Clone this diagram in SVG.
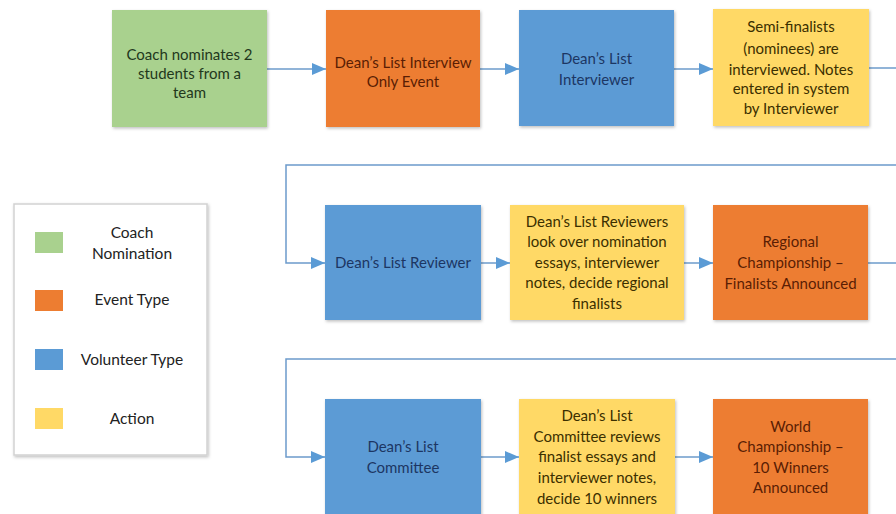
<svg xmlns="http://www.w3.org/2000/svg" width="896" height="514" viewBox="0 0 896 514">
<style>
text{font-family:Lato,"Open Sans","Liberation Sans",sans-serif;font-size:15px;text-anchor:middle}
.g{fill:#A9D18E}.o{fill:#ED7D31}.b{fill:#5B9BD5}.y{fill:#FFD966}
.tg{fill:#22381c}.to{fill:#5a1d04}.tb{fill:#1c3663}.ty{fill:#3b2f00}.tl{fill:#222;font-size:15.5px}
.c{fill:none;stroke:#6c9bcb;stroke-width:1.5}
</style>
<defs>
<filter id="sh" x="-10%" y="-10%" width="130%" height="130%"><feDropShadow dx="1" dy="1.5" stdDeviation="1.5" flood-color="#000" flood-opacity="0.25"/></filter>
<marker id="ar" markerWidth="14" markerHeight="12" refX="14" refY="6" orient="auto" markerUnits="userSpaceOnUse"><path d="M0,0 L14,6 L0,12 Z" fill="#5b9bd5"/></marker>
</defs>
<rect width="896" height="514" fill="#fff"/>
<g id="connectors">
<path class="c" d="M267,69 H326" marker-end="url(#ar)"/>
<path class="c" d="M480,69 H519" marker-end="url(#ar)"/>
<path class="c" d="M674,69 H713" marker-end="url(#ar)"/>
<path class="c" d="M869,68 H896"/>
<path class="c" d="M896,165 H286 V263 H325" marker-end="url(#ar)"/>
<path class="c" d="M481,263 H510" marker-end="url(#ar)"/>
<path class="c" d="M684,263 H713" marker-end="url(#ar)"/>
<path class="c" d="M868,263 H896"/>
<path class="c" d="M896,359 H286 V457 H325" marker-end="url(#ar)"/>
<path class="c" d="M481,457 H519" marker-end="url(#ar)"/>
<path class="c" d="M675,457 H713" marker-end="url(#ar)"/>
</g>
<g id="coach">
<rect class="g" x="112" y="10" width="155" height="117" filter="url(#sh)"/>
<text class="tg"><tspan x="189.5" y="60">Coach nominates 2</tspan><tspan x="189.5" y="79">students from a</tspan><tspan x="189.5" y="98">team</tspan></text>
</g>
<g id="interview-event">
<rect class="o" x="326" y="10" width="154" height="117" filter="url(#sh)"/>
<text class="to"><tspan x="403" y="68">Dean’s List Interview</tspan><tspan x="403" y="87">Only Event</tspan></text>
</g>
<g id="interviewer">
<rect class="b" x="519" y="10" width="155" height="116" filter="url(#sh)"/>
<text class="tb"><tspan x="596.5" y="64">Dean’s List</tspan><tspan x="596.5" y="85">Interviewer</tspan></text>
</g>
<g id="semifinalists">
<rect class="y" x="713" y="9" width="156" height="117" filter="url(#sh)"/>
<text class="ty"><tspan x="791" y="32">Semi-finalists</tspan><tspan x="791" y="54">(nominees) are</tspan><tspan x="791" y="75">interviewed. Notes</tspan><tspan x="791" y="94">entered in system</tspan><tspan x="791" y="114">by Interviewer</tspan></text>
</g>
<g id="reviewer">
<rect class="b" x="325" y="205" width="156" height="115" filter="url(#sh)"/>
<text class="tb"><tspan x="403" y="268">Dean’s List Reviewer</tspan></text>
</g>
<g id="review-action">
<rect class="y" x="510" y="205" width="174" height="115" filter="url(#sh)"/>
<text class="ty"><tspan x="597" y="227">Dean’s List Reviewers</tspan><tspan x="597" y="247">look over nomination</tspan><tspan x="597" y="268">essays, interviewer</tspan><tspan x="597" y="288">notes, decide regional</tspan><tspan x="597" y="309">finalists</tspan></text>
</g>
<g id="regional">
<rect class="o" x="713" y="205" width="155" height="115" filter="url(#sh)"/>
<text class="to"><tspan x="790.5" y="247">Regional</tspan><tspan x="790.5" y="268">Championship –</tspan><tspan x="790.5" y="289">Finalists Announced</tspan></text>
</g>
<g id="committee">
<rect class="b" x="325" y="399" width="156" height="125" filter="url(#sh)"/>
<text class="tb"><tspan x="403" y="452">Dean’s List</tspan><tspan x="403" y="473">Committee</tspan></text>
</g>
<g id="committee-action">
<rect class="y" x="519" y="399" width="156" height="125" filter="url(#sh)"/>
<text class="ty"><tspan x="597" y="421">Dean’s List</tspan><tspan x="597" y="442">Committee reviews</tspan><tspan x="597" y="462">finalist essays and</tspan><tspan x="597" y="483">interviewer notes,</tspan><tspan x="597" y="504">decide 10 winners</tspan></text>
</g>
<g id="world">
<rect class="o" x="713" y="399" width="155" height="125" filter="url(#sh)"/>
<text class="to"><tspan x="790.5" y="432">World</tspan><tspan x="790.5" y="452">Championship –</tspan><tspan x="790.5" y="473">10 Winners</tspan><tspan x="790.5" y="493">Announced</tspan></text>
</g>
<g id="legend">
<rect x="14" y="204" width="193" height="251" fill="#fff" stroke="#d2d2d2" stroke-width="1.5" filter="url(#sh)"/>
<rect class="g" x="35" y="232" width="28" height="21"/>
<rect class="o" x="35" y="290" width="28" height="21"/>
<rect class="b" x="35" y="349" width="28" height="21"/>
<rect class="y" x="35" y="408" width="28" height="21"/>
<text class="tl"><tspan x="132" y="238">Coach</tspan><tspan x="132" y="259">Nomination</tspan></text>
<text class="tl" x="132" y="305">Event Type</text>
<text class="tl" x="132" y="365">Volunteer Type</text>
<text class="tl" x="132" y="424">Action</text>
</g>
</svg>
